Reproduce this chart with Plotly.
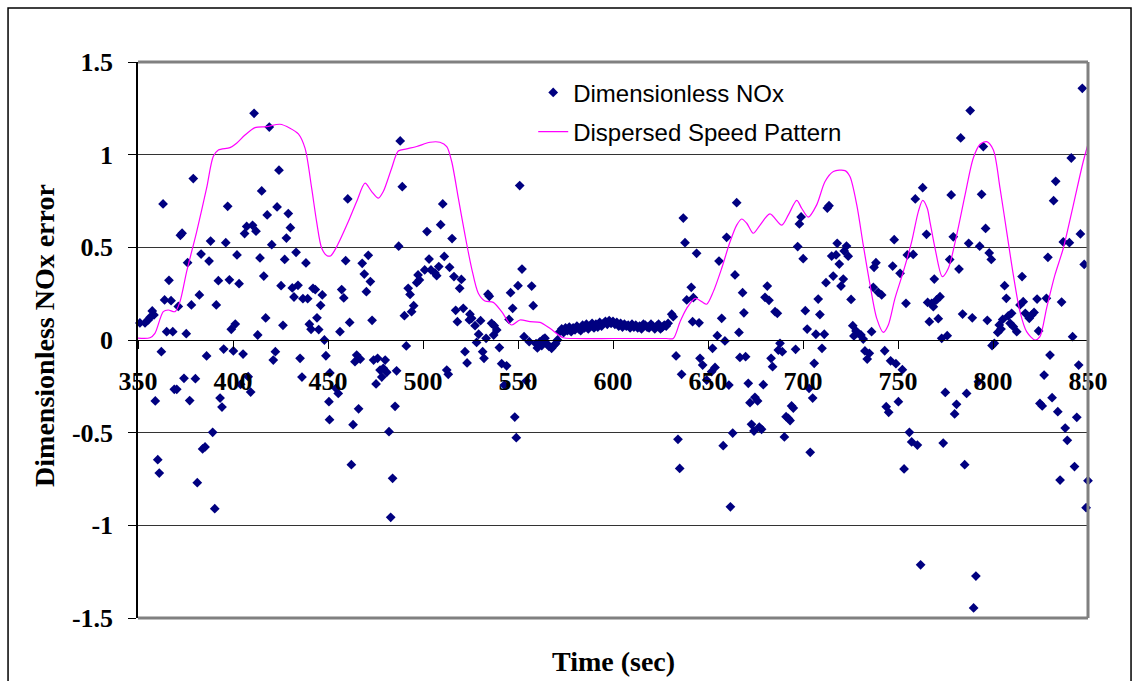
import plotly.graph_objects as go

# ---- Data: Dimensionless NOx (scatter) ----
nox_t = [351.0, 353.7, 355.4, 356.3, 357.5, 358.4, 359.1, 360.4, 361.2, 362.3, 363.2, 364.0, 365.1, 366.3,
         367.4, 368.3, 369.1, 370.4, 371.2, 372.3, 373.2, 374.2, 375.4, 376.1, 377.2, 378.1, 379.1, 380.2,
         381.2, 382.3, 383.2, 384.0, 385.3, 386.1, 387.4, 388.2, 389.3, 390.4, 391.2, 392.3, 393.2, 394.2,
         395.1, 396.2, 397.2, 398.1, 399.1, 400.2, 401.2, 402.1, 403.2, 404.0, 405.3, 406.1, 407.2, 408.0,
         409.3, 410.3, 411.1, 412.1, 413.0, 414.2, 415.1, 416.2, 417.2, 418.0, 419.1, 420.4, 421.2, 422.3,
         423.2, 424.2, 425.3, 426.3, 427.2, 428.1, 429.1, 430.2, 431.2, 432.1, 433.2, 434.2, 435.3, 436.3,
         436.8, 438.4, 439.3, 440.2, 441.1, 442.1, 443.3, 444.2, 445.1, 446.1, 447.0, 448.1, 448.9, 450.5,
         450.8, 451.0, 454.2, 455.4, 456.3, 457.2, 458.3, 459.3, 460.4, 461.4, 462.3, 463.2, 464.2, 465.1,
         466.1, 467.0, 468.0, 469.1, 470.2, 471.2, 472.3, 473.2, 474.0, 475.3, 476.1, 477.4, 478.3, 479.1,
         480.1, 480.9, 482.1, 483.0, 484.0, 485.3, 486.1, 487.2, 488.0, 489.1, 490.2, 491.2, 492.2, 493.2,
         494.0, 495.1, 496.7, 497.4, 498.1, 500.9, 502.1, 503.2, 504.2, 506.3, 507.2, 508.3, 509.3, 510.4,
         511.2, 512.5, 513.3, 514.0, 515.3, 516.3, 517.2, 518.1, 519.3, 520.2, 521.2, 522.1, 523.2, 524.4,
         524.7, 525.6, 527.4, 528.2, 529.3, 530.3, 531.4, 532.1, 533.2, 534.2, 534.9, 536.1, 537.2, 537.5,
         538.8, 540.2, 541.4, 542.8, 544.0, 545.3, 546.1, 547.2, 548.3, 549.1, 550.0, 550.9, 552.1, 553.2,
         554.4, 555.9, 557.2, 558.0, 559.5, 560.2, 561.5, 562.5, 563.3, 564.2, 565.2, 566.3, 567.7, 568.8,
         569.8, 570.8,
         572, 573, 574, 575, 576, 577, 578, 579, 580, 581, 582, 583, 584, 585, 586, 587, 588, 589, 590,
         591, 592, 593, 594, 595, 596, 597, 598, 599, 600, 601, 602, 603, 604, 605, 606, 607, 608, 609,
         610, 611, 612, 613, 614, 615, 616, 617, 618, 619, 620, 621, 622, 623, 624, 625, 626, 627, 628, 629,
         630.9, 631.7, 633.2, 634.2, 635.1, 636.1, 637.0, 637.9, 638.8, 641.2, 641.9, 642.3, 644.0, 645.3,
         645.8, 647.2, 649.3, 651.9, 652.4, 653.7, 654.9, 655.8, 657.2, 658.0, 658.9, 659.8, 661.0, 661.8,
         663.0, 664.2, 665.1, 666.3, 666.8, 668.2, 668.9, 669.8, 671.2, 672.1, 672.9, 674.2, 674.7, 676.1,
         677.0, 678.2, 679.1, 680.0, 681.2, 682.1, 683.2, 684.0, 685.3, 686.5, 687.0, 687.9, 689.1, 690.2,
         691.1, 692.3, 693.2, 694.0, 694.9, 696.1, 697.2, 698.1, 699.0, 700.1, 701.2, 702.2, 703.2, 703.8,
         705.1, 705.9, 706.8, 708.0, 708.9, 710.0, 711.2, 712.1, 712.8, 713.7, 715.1, 715.9, 717.4, 718.0,
         719.1, 720.0, 721.2, 721.7, 722.9, 723.8, 725.3, 726.2, 726.8, 727.9, 729.1, 730.5, 731.7, 732.6,
         733.8, 734.9, 736.1, 737.0, 737.4, 738.4, 739.6, 741.4, 743.0, 743.8, 745.1, 746.1, 747.2, 748.0,
         748.9, 750.2, 751.1, 752.3, 753.2, 754.2, 754.9, 756.0, 757.2, 758.0, 759.1, 760.2, 761.9, 763.0,
         765.0, 765.6, 766.5, 767.7, 768.6, 769.1, 770.3, 771.2, 772.1, 773.0, 773.8, 774.9, 775.9, 777.2,
         778.0, 779.1, 779.8, 780.8, 782.1, 783.0, 784.0, 785.1, 786.1, 787.2, 788.0, 789.1, 789.8, 791.0,
         792.3, 793.0, 794.0, 794.9, 796.1, 797.0, 798.0, 799.1, 799.5, 800.7, 802.5, 803.3, 804.2, 805.1,
         806.1, 807.0, 808.0, 809.0, 809.8, 810.7, 812.5, 814.2, 815.3, 815.9, 817.0, 819.1, 820.4, 821.6,
         823.2, 824.0, 824.7, 825.9, 826.9, 828.1, 828.9, 830.0, 831.1, 831.9, 833.0, 834.1, 835.3, 836.1,
         837.0, 838.0, 839.1, 840.2, 841.2, 841.9, 842.9, 844.1, 845.1, 846.0, 847.0, 848.0, 849.0, 850.0]

nox_v = [0.092, 0.092, 0.108, 0.122, 0.157, 0.135, -0.329, -0.646, -0.718, -0.063, 0.734, 0.216, 0.045, 0.322,
         0.212, 0.045, -0.266, -0.266, 0.181, 0.565, 0.576, -0.207, 0.034, 0.417, -0.327, 0.189, 0.871, -0.209,
         -0.770, 0.243, 0.464, -0.588, -0.577, -0.086, 0.426, 0.534, -0.498, -0.910, 0.189, 0.320, -0.313, -0.362,
         -0.049, 0.525, 0.721, 0.325, 0.058, -0.059, 0.086, 0.459, 0.304, -0.239, -0.076, 0.574, 0.613, -0.198,
         -0.281, 0.619, 1.223, 0.587, 0.027, 0.443, 0.804, 0.345, 0.119, 0.675, 1.149, 0.514, -0.108, -0.063,
         0.718, 0.916, 0.293, 0.079, 0.435, 0.550, 0.682, 0.606, 0.281, 0.232, 0.473, 0.295, -0.099, -0.200,
         0.223, 0.416, 0.223, 0.085, 0.058, 0.279, 0.272, 0.120, 0.056, 0.187, 0.243, 0.000, -0.085, -0.333,
         -0.430, -0.178, -0.261, -0.288, 0.045, 0.272, 0.227, 0.428, 0.761, 0.095, -0.673, -0.457, -0.117, -0.081,
         -0.371, -0.103, 0.414, 0.356, 0.261, 0.457, 0.315, 0.106, -0.108, -0.237, -0.099, -0.162, -0.200, -0.153,
         -0.108, -0.174, -0.495, -0.957, -0.746, -0.358, -0.166, 0.506, 1.074, 0.827, 0.131, -0.032, 0.279, 0.246,
         0.153, 0.185, 0.309, 0.351, 0.324, 0.378, 0.585, 0.437, 0.378, 0.362, 0.347, 0.396, 0.622, 0.734,
         0.451, -0.162, -0.185, 0.392, 0.547, 0.342, 0.160, 0.099, 0.279, 0.327, 0.171, -0.063, -0.124, 0.108,
         0.139, 0.117, 0.077, -0.013, 0.031, 0.104, -0.063, -0.099, 0.009, 0.247, 0.236, 0.090, 0.027, 0.077,
         0.054, -0.041, -0.128, -0.243, -0.139, 0.111, 0.255, 0.171, -0.416, -0.527, 0.293, 0.833, 0.383, 0.018,
         -0.220, -0.009, 0.291, 0.185, -0.020, -0.043, -0.010, -0.030, 0.005, 0.010, -0.020, -0.035, -0.045, -0.030,
         -0.020, 0.000,
         0.045, 0.060, 0.040, 0.065, 0.050, 0.070, 0.045, 0.065, 0.055, 0.075, 0.060, 0.050, 0.080, 0.065, 0.085,
         0.060, 0.075, 0.090, 0.065, 0.085, 0.070, 0.095, 0.075, 0.090, 0.100, 0.085, 0.105, 0.090, 0.100, 0.085,
         0.095, 0.075, 0.090, 0.070, 0.085, 0.075, 0.080, 0.065, 0.085, 0.070, 0.080, 0.065, 0.075, 0.060, 0.085,
         0.080, 0.070, 0.065, 0.085, 0.075, 0.060, 0.075, 0.085, 0.060, 0.070, 0.080, 0.075, 0.090,
         0.139, 0.126, -0.086, -0.536, -0.693, -0.185, 0.658, 0.525, 0.216, 0.284, 0.099, 0.228, 0.468, 0.093,
         -0.099, -0.135, -0.216, -0.171, -0.045, -0.148, 0.023, 0.426, 0.117, -0.570, -0.005, 0.554, -0.243, -0.900,
         -0.502, 0.351, 0.741, 0.041, -0.094, 0.255, 0.147, -0.090, -0.234, -0.338, -0.455, -0.491, -0.309, -0.329,
         -0.470, -0.482, -0.241, 0.230, 0.291, 0.214, -0.099, -0.144, 0.153, 0.144, -0.054, -0.018, -0.063, -0.523,
         -0.414, -0.423, -0.435, -0.356, -0.367, -0.050, 0.504, 0.626, 0.664, 0.439, 0.158, 0.059, -0.261, -0.606,
         -0.313, -0.126, 0.031, 0.221, 0.137, -0.045, 0.031, 0.309, 0.712, 0.725, 0.453, 0.345, 0.459, 0.522,
         0.410, 0.291, 0.329, 0.480, 0.507, 0.452, 0.219, 0.077, 0.022, 0.049, 0.036, 0.027, 0.005, -0.059,
         -0.103, -0.072, 0.045, 0.284, 0.392, 0.417, 0.257, 0.243, -0.058, -0.360, -0.390, -0.112, 0.399, 0.541,
         -0.128, -0.333, 0.360, -0.160, -0.696, 0.198, 0.459, -0.498, -0.550, 0.462, 0.761, -0.567, -1.213, 0.822,
         0.570, 0.203, 0.099, 0.198, 0.180, 0.329, 0.216, 0.115, 0.234, 0.009, -0.556, -0.283, 0.023, 0.434,
         0.783, 0.557, -0.399, -0.347, 0.383, 1.090, 0.140, -0.673, -0.288, 0.522, 1.238, 0.120, -1.446, -1.274,
         -0.225, 0.506, 0.786, 1.044, 0.602, 0.106, 0.470, 0.435, -0.030, -0.018, 0.041, 0.081, 0.059, 0.111,
         0.293, 0.225, 0.130, 0.090, 0.144, 0.072, 0.045, 0.189, 0.342, 0.207, 0.144, 0.117, 0.135, 0.149,
         0.221, 0.049, -0.342, -0.356, -0.189, 0.225, 0.446, -0.081, -0.311, 0.752, 0.856, -0.387, -0.756, 0.205,
         0.529, -0.475, -0.541, 0.525, 0.982, 0.018, -0.683, -0.417, -0.135, 0.572, 1.358, 0.408, -0.905, -0.759]

# ---- Data: Dispersed Speed Pattern (line) ----
spd_t = [350, 356.3, 358.9, 363.3, 365.9, 369.5, 372.1, 375.6, 380.9, 386.1, 389.6, 392.3, 398.4, 401.9,
         406.3, 411.6, 417.7, 424.7, 430, 434.4, 437.9, 441.4, 444, 446.7, 449.5, 451.5, 454.6, 460.7, 465.1,
         469.5, 473, 476.5, 479.1, 483.5, 487, 491.4, 496.7, 503.7, 508.9, 512.5, 515.1, 518.6, 522.1, 525.6,
         529.1, 532.6, 537, 541.4, 546.6, 551, 556.3, 561.6, 566.8, 573.8, 580, 600, 620, 628, 631.7, 635.3,
         638.8, 643.2, 646.7, 649.3, 652.8, 657.2, 661.6, 665.1, 667.7, 670.4, 673.8, 677.4, 682.6, 688.8,
         692.3, 696.7, 699.3, 702.8, 707.2, 711.6, 716, 722.1, 724.7, 728.3, 731.7, 735.3, 738.8, 742.3, 744.9,
         748.4, 752.8, 757.2, 760.7, 763, 765.4, 766.8, 769.5, 773.3, 776.5, 780.9, 785.3, 789.6, 793.2, 796.7,
         800.2, 803.7, 807.2, 810.7, 814.2, 817.7, 822.1, 824.7, 828.2, 832.6, 837, 842.3, 847.5, 851.9]
spd_v = [0.01, 0.012, 0.036, 0.153, 0.162, 0.153, 0.207, 0.369, 0.585, 0.819, 0.99, 1.025, 1.038, 1.062,
         1.106, 1.146, 1.151, 1.164, 1.143, 1.112, 1.035, 0.819, 0.639, 0.495, 0.455, 0.455, 0.504, 0.639, 0.747,
         0.846, 0.801, 0.765, 0.801, 0.927, 1.02, 1.031, 1.044, 1.067, 1.067, 1.044, 0.963, 0.765, 0.567, 0.387,
         0.252, 0.21, 0.203, 0.153, 0.081, 0.108, 0.099, 0.095, 0.063, 0.012, 0.008, 0.008, 0.008, 0.008, 0.008, 0.099,
         0.171, 0.225, 0.207, 0.193, 0.261, 0.387, 0.53, 0.62, 0.653, 0.63, 0.576, 0.62, 0.68, 0.62,
         0.675, 0.753, 0.711, 0.663, 0.729, 0.855, 0.909, 0.914, 0.882, 0.729, 0.513, 0.297, 0.117, 0.041, 0.081,
         0.225, 0.369, 0.531, 0.693, 0.753, 0.711, 0.639, 0.495, 0.342, 0.387, 0.567, 0.783, 0.981, 1.056, 1.07,
         1.025, 0.819, 0.585, 0.351, 0.153, 0.045, 0.0, 0.018, 0.171, 0.351, 0.495, 0.729, 0.963, 1.124]

x_ticks = [350, 400, 450, 500, 550, 600, 650, 700, 750, 800, 850]
y_ticks = [-1.5, -1.0, -0.5, 0.0, 0.5, 1.0, 1.5]
y_tick_text = ["-1.5", "-1", "-0.5", "0", "0.5", "1", "1.5"]

fig = go.Figure()
fig.add_trace(go.Scatter(
    x=nox_t, y=nox_v, mode="markers", name="Dimensionless NOx",
    marker=dict(symbol="diamond", size=7.5, color="#000080"),
    cliponaxis=False, legendgroup="a"))
fig.add_trace(go.Scatter(
    x=spd_t, y=spd_v, mode="lines", name="Dispersed Speed Pattern",
    line=dict(color="#FF00FF", width=1.2, shape="spline", smoothing=0.8),
    legendgroup="b"))

serif = "Liberation Serif, Times New Roman, serif"
fig.update_layout(
    width=1132, height=681, autosize=False,
    margin=dict(l=138, r=44, t=62, b=63),
    paper_bgcolor="white", plot_bgcolor="white",
    showlegend=True,
    legend=dict(x=0.416, y=0.985, xanchor="left", yanchor="top",
                bgcolor="rgba(0,0,0,0)", borderwidth=0,
                font=dict(family="Liberation Sans, Arial, sans-serif", size=24, color="black"),
                traceorder="grouped", tracegroupgap=5),
    xaxis=dict(range=[350, 850], tickvals=x_ticks, ticks="outside", ticklen=8,
               tickcolor="black", showline=True, linecolor="black", linewidth=1,
               showgrid=False, zeroline=False, anchor="free", position=0.5,
               tickfont=dict(family=serif, size=26, color="black", weight="bold"),
               ticklabelstandoff=10),
    yaxis=dict(range=[-1.5, 1.5], tickvals=y_ticks, ticktext=y_tick_text,
               ticks="outside", ticklen=8, tickcolor="black",
               showline=True, linecolor="black", linewidth=1.5,
               showgrid=True, gridcolor="#333333", gridwidth=1,
               zeroline=True, zerolinecolor="black", zerolinewidth=1,
               tickfont=dict(family=serif, size=26, color="black", weight="bold"),
               ticklabelstandoff=10),
    annotations=[
        dict(text="Time (sec)", xref="paper", yref="paper", x=0.5, y=-0.079,
             xanchor="center", yanchor="middle", showarrow=False,
             font=dict(family=serif, size=28, color="black", weight="bold")),
        dict(text="Dimensionless NOx error", xref="paper", yref="paper", x=-0.098, y=0.509,
             xanchor="center", yanchor="middle", showarrow=False, textangle=-90,
             font=dict(family=serif, size=28, color="black", weight="bold")),
    ],
    shapes=[
        dict(type="line", xref="paper", yref="paper", x0=0, x1=1, y0=1, y1=1,
             line=dict(color="#808080", width=3), layer="above"),
        dict(type="line", xref="paper", yref="paper", x0=1, x1=1, y0=0, y1=1,
             line=dict(color="#808080", width=3), layer="above"),
        dict(type="line", xref="paper", yref="paper", x0=0, x1=1, y0=0, y1=0,
             line=dict(color="#808080", width=3), layer="above"),
        dict(type="rect", xref="paper", yref="paper", x0=-0.1368, x1=1.0453, y0=-0.15, y1=1.0971,
             line=dict(color="black", width=1.5), layer="below"),
    ],
)

fig.write_html("out.html")
